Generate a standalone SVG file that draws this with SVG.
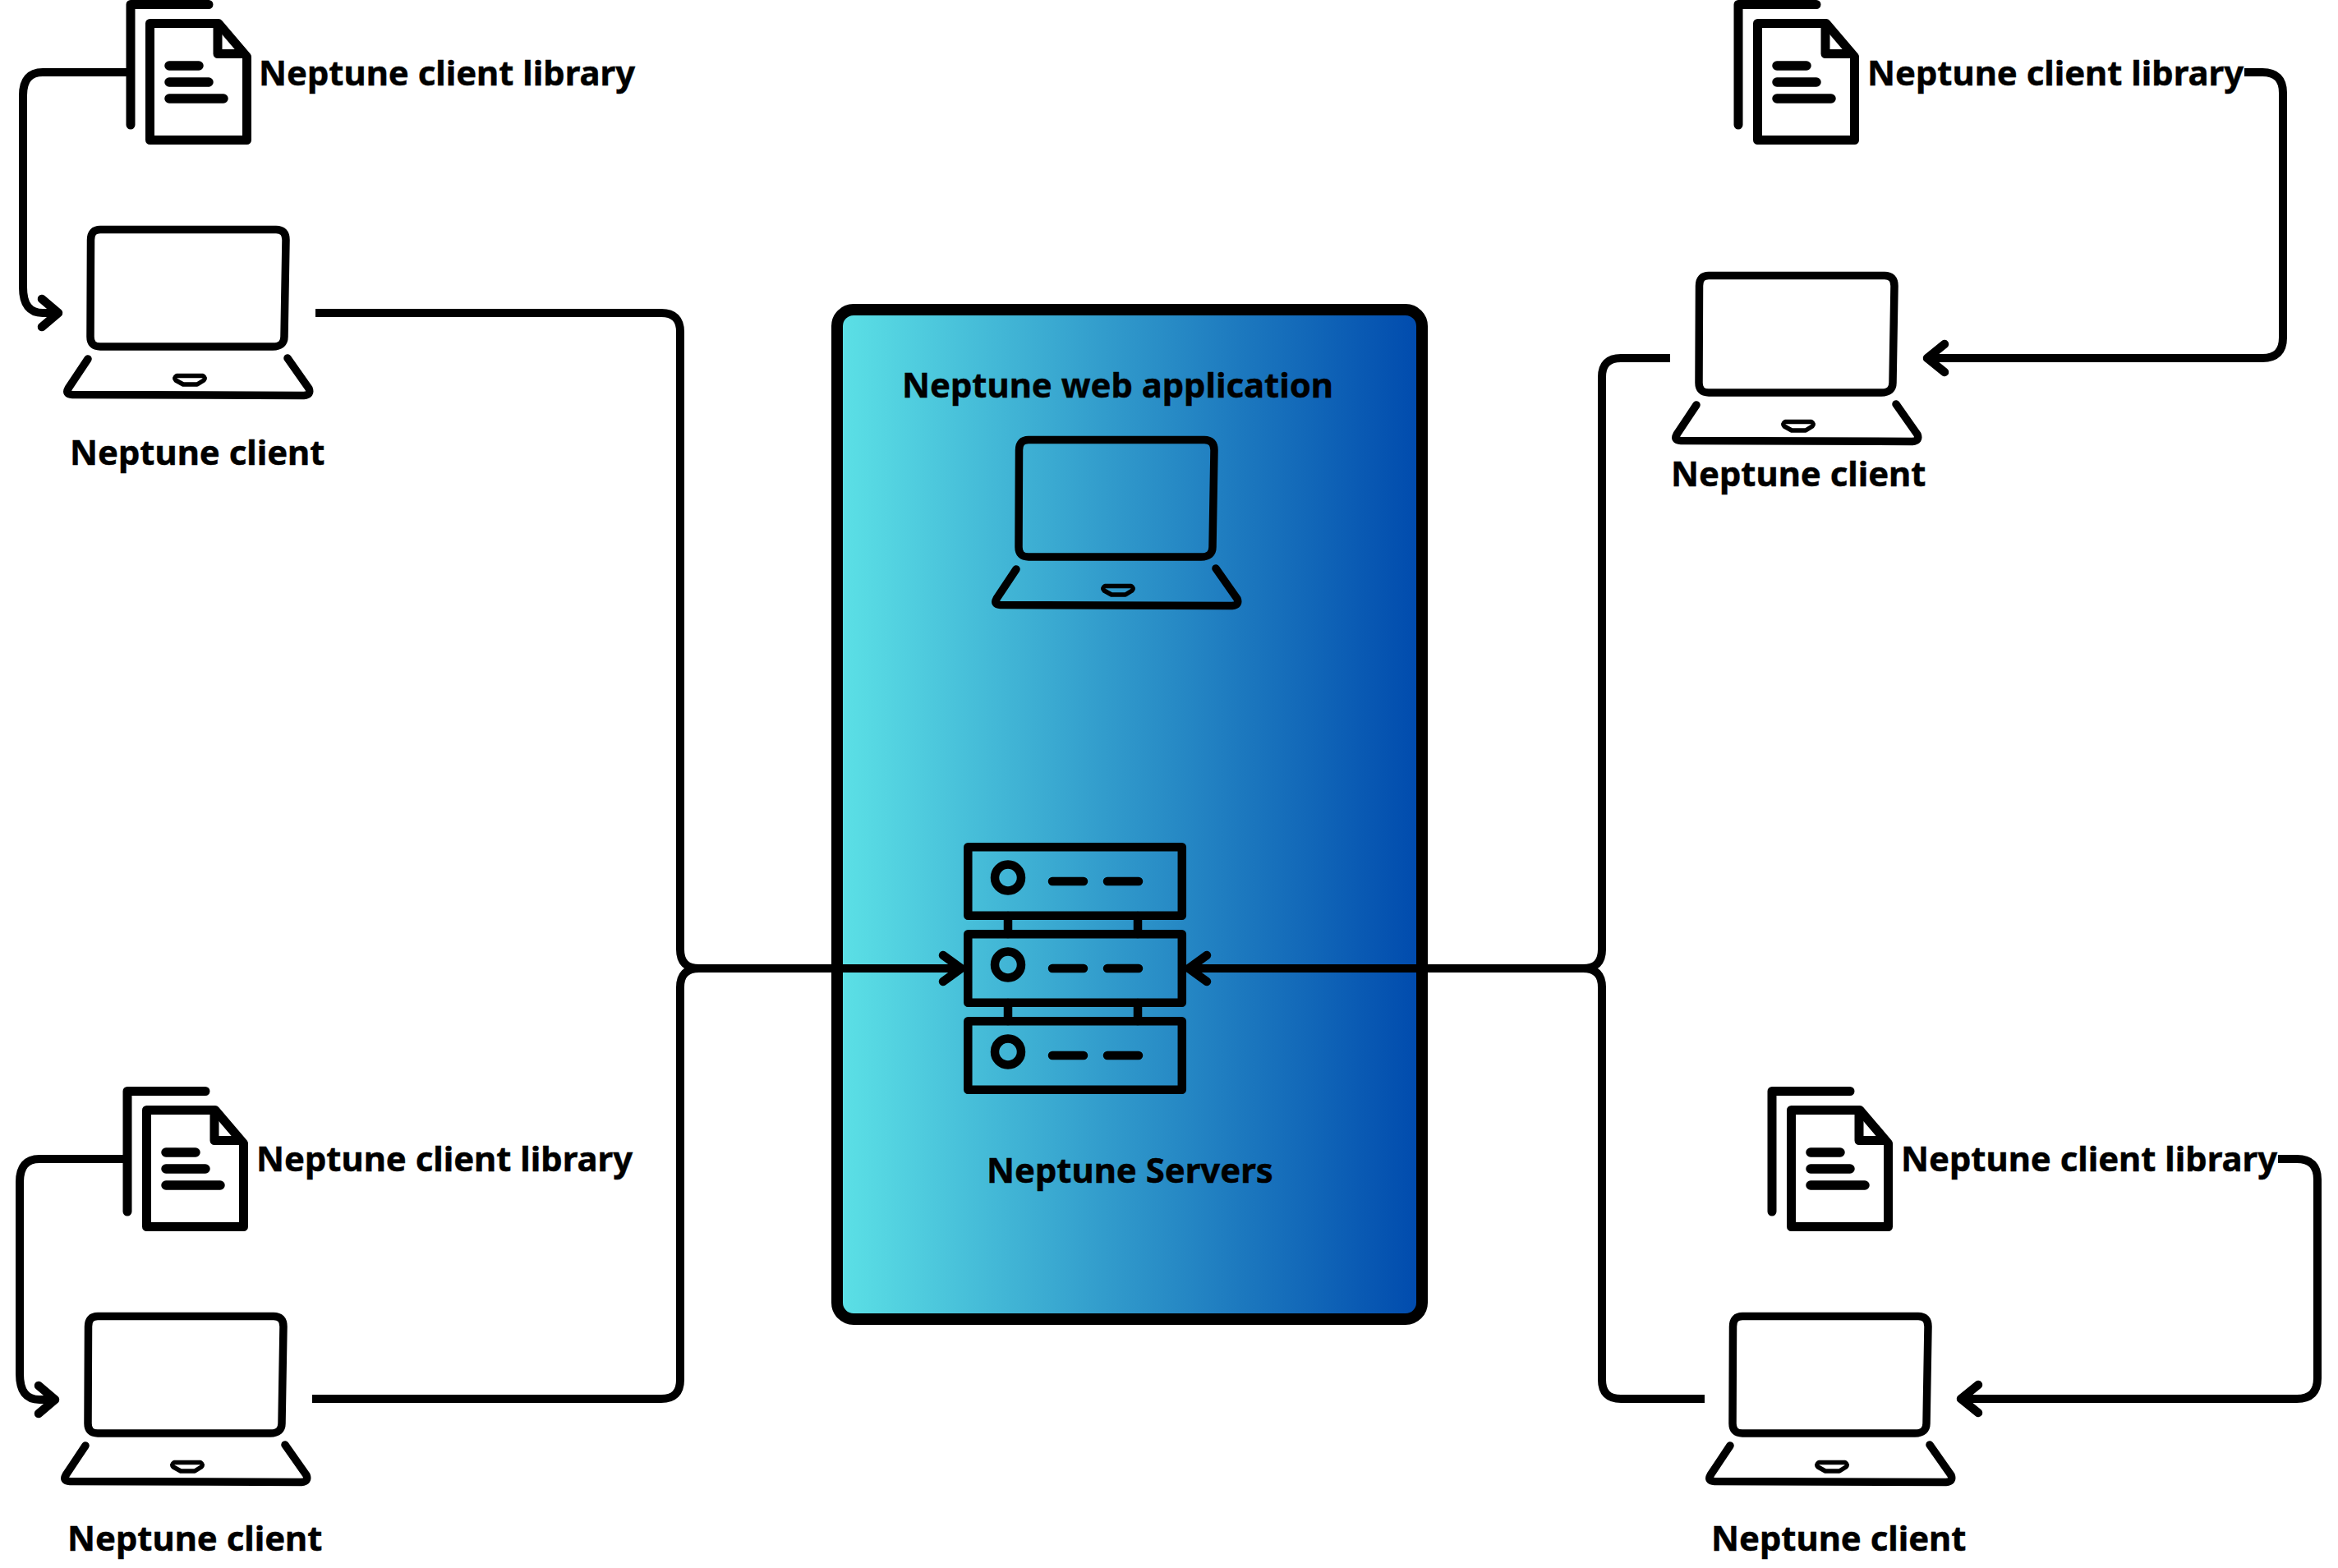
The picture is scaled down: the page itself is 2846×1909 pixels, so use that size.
<svg xmlns="http://www.w3.org/2000/svg" width="2846" height="1909" viewBox="0 0 2846 1909">
<style>
text{font-family:"Noto Sans","Liberation Sans",sans-serif;font-weight:700;font-size:41.800px;fill:#000;stroke:#000;stroke-width:.5}
.l{fill:none;stroke:#000;stroke-width:9.500;stroke-linejoin:round}
.c{fill:none;stroke:#000;stroke-width:10}
.h{fill:none;stroke:#000;stroke-width:10.500;stroke-linecap:round;stroke-linejoin:round}
.d{fill:none;stroke:#000;stroke-width:11;stroke-linejoin:round}
.dl{fill:none;stroke:#000;stroke-width:11.500;stroke-linecap:round}
.s{fill:none;stroke:#000;stroke-width:10.500;stroke-linejoin:round;stroke-linecap:round}
.p{fill:none;stroke:#000;stroke-width:5.500;stroke-linejoin:round}
</style>
<defs>
<linearGradient id="g" x1="0" x2="1" y1="0" y2="0"><stop offset="0" stop-color="#5ce1e6"/><stop offset="1" stop-color="#004aad"/></linearGradient>
<g id="laptop">
<path class="l" d="M16 4.500H230Q242 4.500 242 17L240 135Q240 147 226 147H16Q4 147 4 135L4.500 17Q4.500 4.500 16 4.500Z"/>
<path class="l" stroke-linecap="round" d="M1 162L-23 198Q-27 205 -18 205.500L264 206.500Q273 206 270 198L244 161"/>
<path class="p" d="M109 182.500H141Q145 185 142 188L134 193H117L108 188Q105 185 109 182.500Z"/>
</g>
<g id="doc">
<path class="d" d="M159 152V5.500H254" stroke-linecap="round"/>
<path class="d" d="M182.500 28.500H266L300.500 69V170.500H182.500Z"/>
<path class="d" d="M265 32V65.500H300"/>
<path class="dl" d="M206 80H242M206 100H254M206 120H272"/>
</g>
<g id="srv">
<rect class="s" x="1178.300" y="1031.300" width="260.500" height="83.500"/>
<circle class="s" cx="1227" cy="1068.500" r="16"/>
<path class="s" d="M1281 1073H1319M1348 1073H1386"/>
</g>
</defs>

<g id="app-box">
<rect x="1019" y="377" width="712" height="1229" rx="20" fill="url(#g)" stroke="#000" stroke-width="14"/>
</g>

<g id="connectors">
<path class="c" d="M384 381H805Q828 381 828 404V1156Q828 1179 851 1179H1170"/>
<path class="c" d="M380 1703H805Q828 1703 828 1680V1202Q828 1179 851 1179H1170"/>
<path class="c" d="M2033 436H1973Q1950 436 1950 459V1156Q1950 1179 1927 1179H1447"/>
<path class="c" d="M2075 1703H1973Q1950 1703 1950 1680V1202Q1950 1179 1927 1179H1447"/>
<path class="h" d="M1148 1163L1170 1179L1148 1195M1469 1163L1447 1179L1469 1195"/>
<path class="c" d="M154 88H52Q28 88 28 116V350Q28 381 52 381H70"/>
<path class="h" d="M51 364L71 381L51 398"/>
<path class="c" d="M150 1411H48Q24 1411 24 1439V1673Q24 1704 48 1704H66"/>
<path class="h" d="M47 1687L67 1704L47 1721"/>
<path class="c" d="M2732 88H2754Q2779 88 2779 113V411Q2779 436 2754 436H2346"/>
<path class="h" d="M2367 419L2346 436L2367 453"/>
<path class="c" d="M2773 1411H2796Q2821 1411 2821 1436V1678Q2821 1703 2796 1703H2387"/>
<path class="h" d="M2408 1686L2387 1703L2408 1720"/>
</g>

<g id="web-application">
<text x="1098" y="484">Neptune web application</text>
<use href="#laptop" x="1236" y="531"/>
</g>

<g id="servers">
<use href="#srv"/>
<use href="#srv" y="106"/>
<use href="#srv" y="212"/>
<path class="s" stroke-linecap="butt" d="M1227 1115V1137M1385 1115V1137M1227 1221V1243M1385 1221V1243"/>
<text x="1201" y="1440">Neptune Servers</text>
</g>

<g id="client-tl">
<use href="#laptop" x="106" y="275"/>
<text x="85" y="566">Neptune client</text>
</g>
<g id="client-tr">
<use href="#laptop" x="2064" y="331"/>
<text x="2034" y="592">Neptune client</text>
</g>
<g id="client-bl">
<use href="#laptop" x="103" y="1598"/>
<text x="82" y="1888">Neptune client</text>
</g>
<g id="client-br">
<use href="#laptop" x="2105" y="1598"/>
<text x="2083" y="1888">Neptune client</text>
</g>

<g id="library-tl">
<use href="#doc"/>
<text x="315" y="104">Neptune client library</text>
</g>
<g id="library-tr">
<use href="#doc" x="1957"/>
<text x="2273" y="104">Neptune client library</text>
</g>
<g id="library-bl">
<use href="#doc" x="-4" y="1323"/>
<text x="312" y="1426">Neptune client library</text>
</g>
<g id="library-br">
<use href="#doc" x="1998" y="1323"/>
<text x="2314" y="1426">Neptune client library</text>
</g>
</svg>
